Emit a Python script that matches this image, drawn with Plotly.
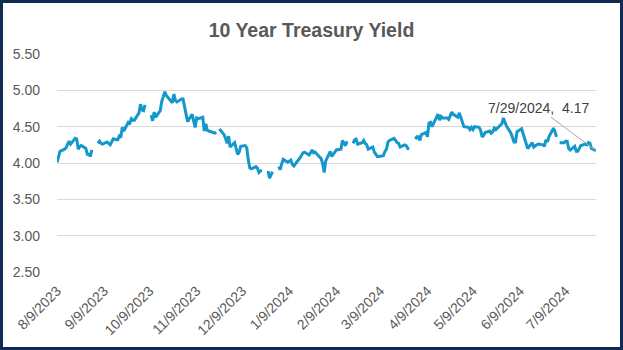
import pandas as pd
import plotly.graph_objects as go

# Daily 10-year Treasury yield (%), business days 8/9/2023 - 7/29/2024.
# None = market holiday left blank in the series (breaks the line).
aug_2023 = [4.01, 4.11, 4.16, 4.19, 4.21, 4.26, 4.30, 4.26, 4.34, 4.33, 4.19, 4.23, 4.24,
            4.20, 4.12, 4.12, 4.09]
sep_2023 = [4.18, None, 4.27, 4.30, 4.27, 4.26, 4.29, 4.27, 4.25, 4.29, 4.33, 4.32, 4.37,
            4.35, 4.49, 4.44, 4.56, 4.55, 4.61, 4.59, 4.59]
oct_2023 = [4.69, 4.81, 4.73, 4.72, 4.80, None, 4.66, 4.58, 4.70, 4.63, 4.72, 4.85, 4.91,
            4.98, 4.93, 4.86, 4.83, 4.95, 4.86, 4.84, 4.88, 4.88]
nov_2023 = [4.77, 4.67, 4.57, 4.67, 4.58, 4.49, 4.62, 4.61, 4.63, 4.44, 4.54, 4.45, 4.44,
            4.42, 4.41, 4.42, None, 4.47, 4.39, 4.34, 4.27, 4.37]
dec_2023 = [4.22, 4.28, 4.18, 4.12, 4.15, 4.23, 4.24, 4.21, 4.04, 3.93, 3.92, 3.95, 3.93,
            3.87, 3.89, 3.90, None, 3.89, 3.79, 3.84, 3.88]
jan_2024 = [None, 3.95, 3.91, 3.99, 4.05, 4.01, 4.02, 4.04, 3.98, 3.96, 4.07, 4.10, 4.14,
            4.15, 4.11, 4.14, 4.18, 4.14, 4.15, 4.08, 4.06, 3.99]
feb_2024 = [3.87, 4.03, 4.16, 4.09, 4.12, 4.15, 4.18, 4.19, 4.31, 4.27, 4.24, 4.30, None,
            4.27, 4.32, 4.33, 4.26, 4.28, 4.31, 4.27, 4.25]
mar_2024 = [4.19, 4.22, 4.15, 4.12, 4.09, 4.09, 4.10, 4.16, 4.19, 4.29, 4.31, 4.34, 4.30,
            4.28, 4.27, 4.22, 4.25, 4.24, 4.20, 4.20, None]
apr_2024 = [4.33, 4.36, 4.36, 4.31, 4.39, 4.42, 4.36, 4.55, 4.56, 4.50, 4.63, 4.67, 4.59,
            4.64, 4.62, 4.62, 4.60, 4.65, 4.70, 4.67, 4.63, 4.69]
may_2024 = [4.63, 4.59, 4.50, 4.49, 4.46, 4.49, 4.46, 4.50, 4.49, 4.45, 4.36, 4.38, 4.42,
            4.44, 4.41, 4.43, 4.48, 4.46, 4.54, 4.62, 4.55, 4.51]
jun_2024 = [4.41, 4.33, 4.29, 4.29, 4.43, 4.47, 4.40, 4.31, 4.24, 4.20, 4.28, 4.22, 4.25,
            4.26, 4.25, 4.23, 4.32, 4.29, 4.36]
jul_2024 = [4.48, 4.43, 4.36, None, 4.28, 4.28, 4.30, 4.30, 4.20, 4.18, 4.23, 4.16, 4.16,
            4.20, 4.24, 4.26, 4.25, 4.28, 4.27, 4.20, 4.17]

# Holidays with no row at all in the series
dropped_days = ["2024-01-15", "2024-05-27", "2024-06-19"]

start_date = "2023-08-09"
end_date = "2024-07-29"

# Monthly category ticks
tick_dates = ["2023-08-09", "2023-09-09", "2023-10-09", "2023-11-09", "2023-12-09",
              "2024-01-09", "2024-02-09", "2024-03-09", "2024-04-09", "2024-05-09",
              "2024-06-09", "2024-07-09"]
y_ticks = [2.5, 3.0, 3.5, 4.0, 4.5, 5.0, 5.5]

yields = (aug_2023 + sep_2023 + oct_2023 + nov_2023 + dec_2023 + jan_2024 + feb_2024
          + mar_2024 + apr_2024 + may_2024 + jun_2024 + jul_2024)
dates = pd.bdate_range(start_date, end_date)
dates = dates[~dates.isin(pd.to_datetime(dropped_days))]
assert len(dates) == len(yields)

W, H = 623, 350
ML, MR, MT, MB = 57, 27, 54, 78
PW, PH = W - ML - MR, H - MT - MB

LINE = "#1497CB"
TXT = "#595959"
FONT = "Liberation Sans, Arial, sans-serif"


def mdy(d):
    d = pd.Timestamp(d)
    return f"{d.month}/{d.day}/{d.year}"


fig = go.Figure()
fig.add_trace(go.Scatter(
    x=dates, y=yields, mode="lines", connectgaps=False,
    line=dict(color=LINE, width=3), hoverinfo="x+y", showlegend=False,
))

last_x, last_y = dates[-1], yields[-1]
fig.add_annotation(
    x=last_x, y=last_y, xref="x", yref="y",
    text=f"{mdy(last_x)}, \u00a0{last_y:.2f}",
    showarrow=True, arrowhead=0, arrowwidth=1, arrowcolor="#A6A6A6",
    ax=-58, ay=-43, standoff=0,
    font=dict(family=FONT, size=14, color="#404040"),
)

# Dark frame around the whole chart
fig.add_shape(
    type="rect", xref="paper", yref="paper",
    x0=(1.5 - ML) / PW, x1=(W - 1.5 - ML) / PW,
    y0=-(H - 1.5 - MT - PH) / PH, y1=1 + (MT - 1.5) / PH,
    line=dict(color="#0E2A55", width=3), fillcolor="rgba(0,0,0,0)",
)

fig.update_layout(
    width=W, height=H,
    margin=dict(l=ML, r=MR, t=MT, b=MB),
    paper_bgcolor="white", plot_bgcolor="white",
    title=dict(text="<b>10 Year Treasury Yield</b>", x=0.5, xref="container",
               y=1 - 30 / H, yref="container", yanchor="middle", xanchor="center",
               font=dict(family=FONT, size=19.5, color=TXT)),
    xaxis=dict(
        type="date", range=[start_date, end_date],
        tickvals=tick_dates, ticktext=[mdy(d) for d in tick_dates],
        tickangle=-45, showgrid=False, showline=False, zeroline=False,
        ticks="", ticklabelstandoff=7,
        tickfont=dict(family=FONT, size=14, color=TXT),
    ),
    yaxis=dict(
        range=[2.5, 5.5], tickvals=y_ticks, ticktext=[f"{v:.2f}" for v in y_ticks],
        showgrid=True, gridcolor="#D9D9D9", gridwidth=1, zeroline=False,
        showline=False, ticks="", ticklabelstandoff=16,
        tickfont=dict(family=FONT, size=14, color=TXT),
    ),
)

fig.write_html("out.html")
